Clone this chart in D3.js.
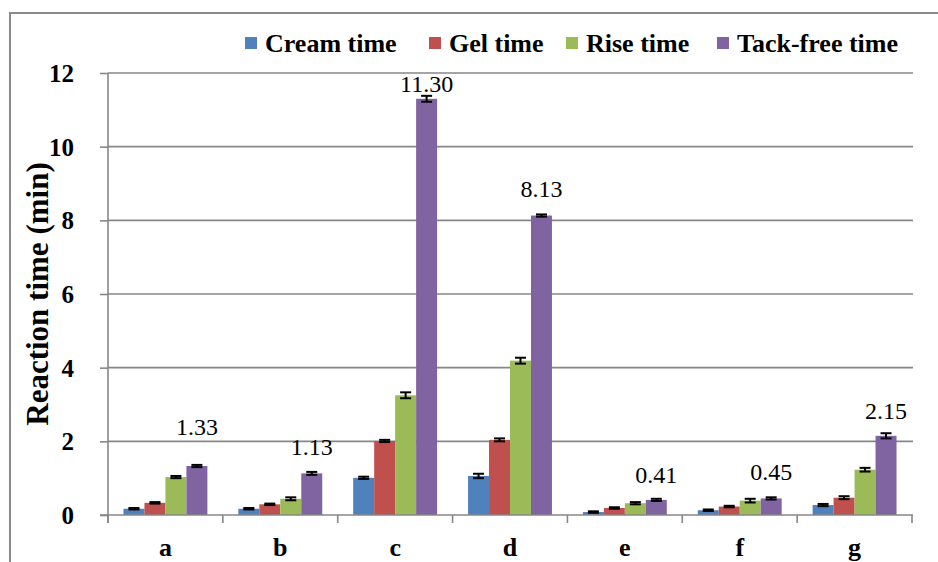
<!DOCTYPE html>
<html><head><meta charset="utf-8">
<script src="https://cdnjs.cloudflare.com/ajax/libs/d3/7.8.5/d3.min.js"></script>
<style>
body{margin:0;background:#fff}
svg{display:block}
#chart text, svg#chart g text, svg text.serif { font-family: "Liberation Serif", "Times New Roman", serif !important; }
</style>
</head><body>
<svg id="chart" width="938" height="562" font-family="Liberation Serif"></svg>
<script>
const categories = ["a","b","c","d","e","f","g"];
const seriesNames = ["Cream time","Gel time","Rise time","Tack-free time"];
const creamTime = [0.17,0.17,1.01,1.06,0.08,0.13,0.27];
const gelTime   = [0.33,0.29,2.01,2.04,0.19,0.23,0.47];
const riseTime  = [1.03,0.44,3.25,4.19,0.32,0.39,1.23];
const tackFree  = [1.33,1.13,11.30,8.13,0.41,0.45,2.15];
const creamErr  = [0.02,0.02,0.03,0.06,0.02,0.02,0.03];
const gelErr    = [0.02,0.02,0.03,0.04,0.02,0.02,0.04];
const riseErr   = [0.03,0.04,0.08,0.08,0.03,0.05,0.05];
const tackErr   = [0.03,0.04,0.08,0.03,0.03,0.03,0.07];
const yTicks = [0,2,4,6,8,10,12];
const labelGap = [31,18,7,19,17,18,17];

const colors = ["#4F81BD","#C0504D","#9BBB59","#8064A2"];
const values = [creamTime, gelTime, riseTime, tackFree];
const errs = [creamErr, gelErr, riseErr, tackErr];

const svg = d3.select("#chart");
const grid = "#878787";
function font(sel, size, bold){
  sel.classed("serif",true)
     .attr("font-family","Liberation Serif")
     .attr("font-size",size)
     .attr("font-weight",bold?"bold":"normal")
     .attr("fill","#000");
  return sel;
}

// outer chart border
svg.append("rect").attr("x",10).attr("y",13).attr("width",940).attr("height",560)
  .attr("fill","none").attr("stroke","#8a8a8a").attr("stroke-width",2);

const x0 = d3.scaleBand().domain(categories).range([108,912]).paddingInner(0).paddingOuter(0);
const x1 = d3.scaleBand().domain(d3.range(4)).range([0,x0.bandwidth()]).paddingInner(0).paddingOuter(0.738);
const y = d3.scaleLinear().domain([0,12]).range([515,73]);

// gridlines
svg.append("g").selectAll("line").data(yTicks.filter(t=>t>0)).join("line")
  .attr("x1",108).attr("x2",913).attr("y1",d=>y(d)).attr("y2",d=>y(d))
  .attr("stroke",grid).attr("stroke-width",1.6);

// y axis
const yAxis = svg.append("g").attr("transform","translate(108,0)")
  .call(d3.axisLeft(y).tickValues(yTicks).tickSize(8).tickPadding(26).tickFormat(d3.format("d")));
yAxis.attr("font-family","Liberation Serif").attr("font-size",25);
yAxis.select(".domain").attr("stroke",grid).attr("stroke-width",1.6).attr("d","M0,73V523");
yAxis.selectAll(".tick line").attr("stroke",grid).attr("stroke-width",1.6);
font(yAxis.selectAll(".tick text"),25,true).attr("dy","0.34em");

// bars
const groups = svg.append("g").selectAll("g").data(categories).join("g")
  .attr("transform",d=>`translate(${x0(d)},0)`);
groups.selectAll("rect").data((c,i)=>values.map((s,k)=>({k,v:s[i]}))).join("rect")
  .attr("x",d=>x1(d.k)).attr("width",x1.bandwidth())
  .attr("y",d=>y(d.v)).attr("height",d=>y(0)-y(d.v))
  .attr("fill",d=>colors[d.k]);

// error bars + labels
groups.each(function(c,i){
  const g = d3.select(this);
  values.forEach((s,k)=>{
    const cx = x1(k)+x1.bandwidth()/2, v=s[i], e=errs[k][i];
    const eg = g.append("g").attr("stroke","#000").attr("stroke-width",2);
    eg.append("line").attr("x1",cx).attr("x2",cx).attr("y1",y(v-e)).attr("y2",y(v+e));
    eg.append("line").attr("x1",cx-5.5).attr("x2",cx+5.5).attr("y1",y(v+e)).attr("y2",y(v+e));
    eg.append("line").attr("x1",cx-5.5).attr("x2",cx+5.5).attr("y1",y(v-e)).attr("y2",y(v-e));
  });
  font(g.append("text"),24,false).attr("x",x1(3)+x1.bandwidth()/2).attr("y",y(tackFree[i])-labelGap[i])
    .attr("text-anchor","middle").text(d3.format(".2f")(tackFree[i]));
});

// x axis
const xAxis = svg.append("g").attr("transform","translate(0,515)")
  .call(d3.axisBottom(x0).tickSize(0).tickPadding(0));
xAxis.attr("font-family","Liberation Serif").attr("font-size",26);
xAxis.select(".domain").attr("stroke",grid).attr("stroke-width",1.6).attr("d","M100,0H913");
font(xAxis.selectAll(".tick text"),26,true).attr("y",41).attr("dy",0);
svg.append("g").selectAll("line").data(d3.range(8)).join("line")
  .attr("x1",i=>i<7?x0(categories[i]):912).attr("x2",i=>i<7?x0(categories[i]):912)
  .attr("y1",515).attr("y2",523).attr("stroke",grid).attr("stroke-width",1.6);

// y title
font(svg.append("text"),31,true).attr("transform","translate(48,294) rotate(-90)")
  .attr("text-anchor","middle").text("Reaction time (min)");

// legend
const legendX = [245,429,566,717];
const lg = svg.append("g").selectAll("g").data(seriesNames).join("g")
  .attr("transform",(d,i)=>`translate(${legendX[i]},37)`);
lg.append("rect").attr("width",12).attr("height",12).attr("fill",(d,i)=>colors[i]);
font(lg.append("text"),26,true).attr("x",20).attr("y",15).text(d=>d);
</script>
</body></html>
